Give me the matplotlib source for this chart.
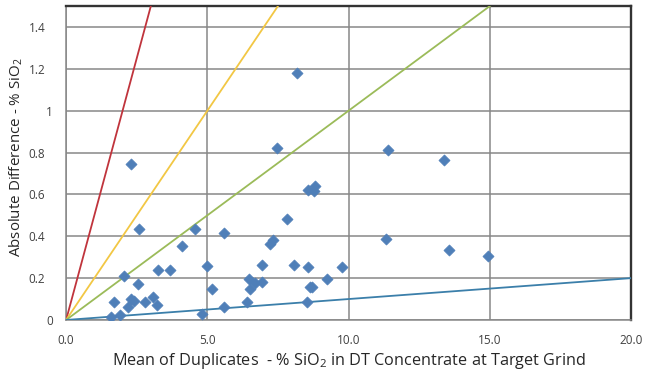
import matplotlib
matplotlib.use("Agg")
import matplotlib.pyplot as plt
import matplotlib.transforms as mtransforms
import numpy as np

plt.rcParams['font.family'] = ['Open Sans', 'DejaVu Sans']

# Data: mean of duplicates (x) vs absolute difference (y)
mean_dup = [1.58, 1.68, 1.91, 2.06, 2.19, 2.30, 2.31, 2.40, 2.54, 2.57,
            2.81, 3.09, 3.20, 3.27, 3.66, 4.09, 4.57, 4.80, 4.98, 5.16,
            5.59, 5.59, 6.42, 6.47, 6.50, 6.67, 6.92, 6.92, 7.23, 7.34,
            7.48, 7.81, 8.08, 8.19, 8.52, 8.55, 8.55, 8.64, 8.71, 8.78,
            8.81, 9.23, 9.76, 11.32, 11.41, 13.39, 13.57, 14.95]
abs_diff = [0.016, 0.086, 0.025, 0.211, 0.060, 0.743, 0.100, 0.092, 0.173, 0.433,
            0.086, 0.111, 0.070, 0.238, 0.238, 0.352, 0.433, 0.027, 0.257, 0.148,
            0.416, 0.060, 0.085, 0.194, 0.147, 0.178, 0.180, 0.263, 0.365, 0.381,
            0.821, 0.484, 0.263, 1.178, 0.084, 0.255, 0.619, 0.156, 0.156, 0.616,
            0.638, 0.194, 0.255, 0.389, 0.814, 0.763, 0.333, 0.306]

# Reference precision lines (slope = relative precision)
line_slopes = [0.5, 0.2, 0.1, 0.01]
line_colors = ['#C0343C', '#F2C744', '#9BBB59', '#3B7FAA']

x_ticks = [0, 5, 10, 15, 20]
y_ticks = [0, 0.2, 0.4, 0.6, 0.8, 1.0, 1.2, 1.4]
y_tick_labels = ['0', '0.2', '0.4', '0.6', '0.8', '1', '1.2', '1.4']

fig = plt.figure(figsize=(6.48, 3.76), dpi=100)
ax = fig.add_axes([0.102, 0.149, 0.872, 0.835])

xs = np.array([0, 20.0])
for s, c in zip(line_slopes, line_colors):
    ax.plot(xs, s * xs, color=c, lw=1.3, zorder=3)

ax.scatter(mean_dup, abs_diff, marker='D', s=32, color='#4F7FB8',
           edgecolors='#4F7FB8', linewidths=0.5, zorder=4)

ax.set_xlim(0, 20)
ax.set_ylim(0, 1.5)
ax.set_xticks(x_ticks)
ax.set_xticklabels([f"{v:.1f}" for v in x_ticks])
ax.set_yticks(y_ticks)
ax.set_yticklabels(y_tick_labels)
ax.grid(True, color='#878787', lw=1.1)
ax.set_axisbelow(True)
ax.tick_params(length=0, labelsize=8.5, colors='#404040')
ax.tick_params(axis='x', pad=10)
ax.tick_params(axis='y', pad=15)

# integer labels sit further right (decimal alignment as in the reference)
shift = mtransforms.ScaledTranslation(8 / 100, 0, fig.dpi_scale_trans)
for lab in ax.get_yticklabels():
    if '.' not in lab.get_text():
        lab.set_transform(lab.get_transform() + shift)

for side in ['left', 'bottom']:
    ax.spines[side].set_color('#878787')
    ax.spines[side].set_linewidth(1.1)
for side in ['top', 'right']:
    ax.spines[side].set_color('#333333')
    ax.spines[side].set_linewidth(1.7)

ax.set_xlabel('Mean of Duplicates  - % SiO$_\\mathregular{2}$ in DT Concentrate at Target Grind',
              fontsize=11.7, color='#262626', labelpad=3)
ax.set_ylabel('Absolute Difference - % SiO$_\\mathregular{2}$', fontsize=10.9,
              color='#262626')
ax.yaxis.set_label_coords(-0.073, 0.52)

fig.savefig('out.png', dpi=100)
